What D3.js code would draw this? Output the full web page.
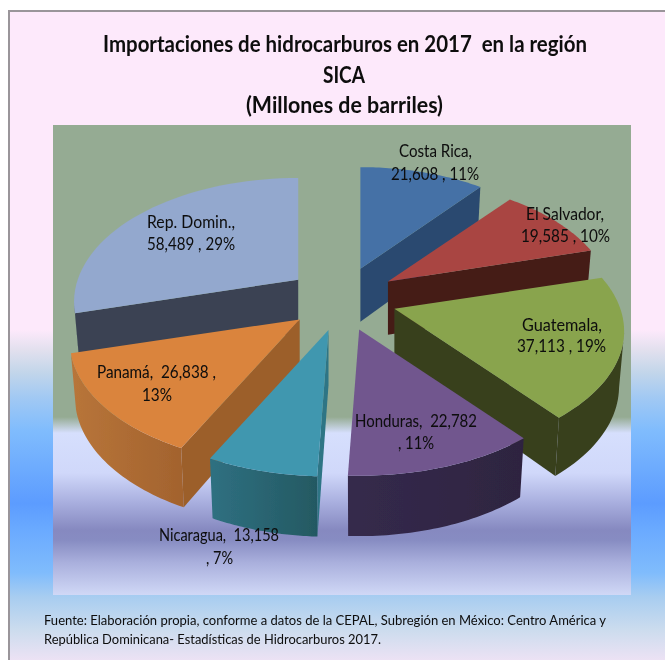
<!DOCTYPE html>
<html>
<head>
<meta charset="utf-8">
<script src="https://cdn.jsdelivr.net/npm/d3@7/dist/d3.min.js"></script>
<style>
html,body{margin:0;padding:0;background:#fff;overflow:hidden}
svg{display:block}
text{font-family:Lato,"Open Sans",sans-serif;fill:#0b0b0b}
</style>
</head>
<body>
<div id="chart"></div>
<script>
const categories = ["Costa Rica","El Salvador","Guatemala","Honduras","Nicaragua","Panamá","Rep. Domin."];
const values = [21608,19585,37113,22782,13158,26838,58489];
const topColors = ["#4471a6","#a94543","#89a44e","#71578e","#4197af","#da843c","#93a8ce"];
const faceColors = ["#2a4a70","#451b19","#383f1e","#33274a","#2f7485","#9c5f2b","#3a4353"];
const wallLeft = ["#2a4a70","#451b19","#383f1e","#352a4c","#2f7081","#b8753a","#3a4353"];
const wallRight = ["#2a4a70","#451b19","#383f1e","#2e2440","#245962","#a3632e","#3a4353"];
const drawOrder = [6,0,1,2,5,4,3];

const titleLines = ["Importaciones de hidrocarburos en 2017  en la región","SICA","(Millones de barriles)"];
const sourceLines = ["Fuente: Elaboración propia, conforme a datos de la CEPAL, Subregión en México: Centro América y","República Dominicana- Estadísticas de Hidrocarburos 2017."];

const W = 665, H = 660;
const total = d3.sum(values);
const num = d3.format(","), pct = d3.format(".0%");
const svg = d3.select("#chart").append("svg").attr("width",W).attr("height",H);
const defs = svg.append("defs");

function vGrad(id, stops){
  const g = defs.append("linearGradient").attr("id",id).attr("gradientUnits","userSpaceOnUse")
    .attr("x1",0).attr("x2",0).attr("y1",0).attr("y2",H);
  stops.forEach(s=>g.append("stop").attr("offset",s[0]/H).attr("stop-color",s[1]));
}
vGrad("panel",[[0,"#fde9fb"],[330,"#fde9fb"],[350,"#e2e0ee"],[372,"#c3d6ea"],[397,"#a2c9f3"],[430,"#80bcfd"],[503,"#5c9cff"],[530,"#6aaaff"],[573,"#80bcfc"],[597,"#a8cdf0"],[630,"#ccdcee"],[660,"#ece2f4"]]);
vGrad("plot",[[125,"#95ab93"],[417,"#95ab93"],[433,"#d6dffd"],[473,"#d0d8fa"],[503,"#a8aede"],[530,"#8689c0"],[540,"#878cc2"],[563,"#aab0dd"],[595,"#d0d8f6"]]);
defs.append("filter").attr("id","soft").attr("x","-5%").attr("y","-5%").attr("width","110%").attr("height","110%")
  .append("feGaussianBlur").attr("stdDeviation",0.55);
defs.append("filter").attr("id","softT").attr("x","-5%").attr("y","-20%").attr("width","110%").attr("height","140%")
  .append("feGaussianBlur").attr("stdDeviation",0.35);

svg.append("rect").attr("x",9).attr("y",11).attr("width",W).attr("height",H)
  .attr("fill","url(#panel)").attr("stroke","#9a959a").attr("stroke-width",2);
svg.append("rect").attr("x",53).attr("y",125).attr("width",578).attr("height",470).attr("fill","url(#plot)");

/* projected pie */
const cx = 342, cy = 299, explodeX = 55, explodeY = 32, rx = 226, ry = 120, persp = 0.18, thick = 54, sliceDepth = 0.04;
const arcs = d3.pie().value(d=>d).sort(null).startAngle(0).endAngle(2*Math.PI)(values);
const sx = d3.scaleLinear().domain([-1,1]).range([-rx,rx]);
const sy = d3.scaleLinear().domain([-1,1]).range([ry,-ry]);
const rimX = a => sx(Math.sin(a))/(1+persp*Math.cos(a));
const rimY = a => sy(Math.cos(a))/(1+persp*Math.cos(a));
const depthAt = y => thick*(1+0.08*(y-cy)/120);

const layer = svg.append("g").attr("filter","url(#soft)");
const poly = pts => { const p=d3.path(); pts.forEach((q,i)=> i?p.lineTo(q[0],q[1]):p.moveTo(q[0],q[1])); p.closePath(); return p.toString(); };
const down = (p,tip) => { const d=depthAt(p[1]); return [tip[0]+(p[0]-tip[0])*0.978, p[1]+d]; };

drawOrder.forEach(i=>{
  const a = arcs[i], mid=(a.startAngle+a.endAngle)/2;
  const tip=[cx+explodeX*Math.sin(mid), cy-explodeY*Math.cos(mid)];
  const widen = 1-sliceDepth*Math.max(0,Math.cos(mid));
  const rim=d3.range(0,41).map(k=>{
    const t=a.startAngle+(a.endAngle-a.startAngle)*k/40;
    return [tip[0]+rimX(t)*widen, tip[1]+rimY(t)];
  });
  const g = layer.append("g");
  const first=rim[0], last=rim[rim.length-1];
  /* radial faces seen from the front */
  if(first[0]<tip[0]) g.append("path").attr("fill",faceColors[i]).attr("d",poly([tip,first,down(first,tip),down(tip,tip)]));
  if(tip[0]<last[0]) g.append("path").attr("fill",faceColors[i]).attr("d",poly([last,tip,down(tip,tip),down(last,tip)]));
  /* outer wall */
  const front=[];
  rim.forEach((p,k)=>{ if(k && p[0]<rim[k-1][0]) front.push([rim[k-1],p]); });
  if(front.length){
    const xs=front.flat().map(p=>p[0]);
    const gid="wall"+i;
    const lg=defs.append("linearGradient").attr("id",gid).attr("gradientUnits","userSpaceOnUse")
      .attr("x1",d3.min(xs)).attr("x2",d3.max(xs)).attr("y1",0).attr("y2",0);
    lg.append("stop").attr("offset",0).attr("stop-color",wallLeft[i]);
    lg.append("stop").attr("offset",1).attr("stop-color",wallRight[i]);
    const top=[front[0][0],...front.map(s=>s[1])];
    g.append("path").attr("fill",`url(#${gid})`)
      .attr("d",poly([...top,...top.slice().reverse().map(p=>down(p,tip))]));
  }
  g.append("path").attr("fill",topColors[i]).attr("d",poly([tip,...rim]));
});

/* text */
const txt = svg.append("g").attr("filter","url(#softT)");
function put(s,x0,x1,base,size,weight){
  txt.append("text").attr("x",x0).attr("y",base).attr("font-size",size).attr("font-weight",weight||400)
    .attr("textLength",x1-x0).attr("lengthAdjust","spacingAndGlyphs").attr("xml:space","preserve")
    .style("white-space","pre").text(s);
}
put(titleLines[0],103,587,52,22.5,700);
put(titleLines[1],323,365,83,22.5,700);
put(titleLines[2],246,443,113,22.5,700);
put(sourceLines[0],44,606,625,13);
put(sourceLines[1],44,381,644,13);

const v = i => num(values[i]), p = i => pct(values[i]/total);
const labelRows = [
  [[`${categories[0]},`,399,472,157],[`${v(0)} , ${p(0)}`,391,479,180]],
  [[`${categories[1]},`,526,604,220],[`${v(1)} , ${p(1)}`,521,610,242]],
  [[`${categories[2]},`,522,602,331],[`${v(2)} , ${p(2)}`,517,606,352]],
  [[`${categories[3]},  ${v(3)}`,355,477,427],[`, ${p(3)}`,398,434,449]],
  [[`${categories[4]},  ${v(4)}`,159,279,541],[`, ${p(4)}`,206,233,564]],
  [[`${categories[5]},  ${v(5)} ,`,97,216,378],[`${p(5)}`,142,172,401]],
  [[`${categories[6]},`,147,235,228],[`${v(6)} , ${p(6)}`,147,235,250]]
];
labelRows.flat().forEach(r=>put(r[0],r[1],r[2],r[3],16.5));
</script>
</body>
</html>
